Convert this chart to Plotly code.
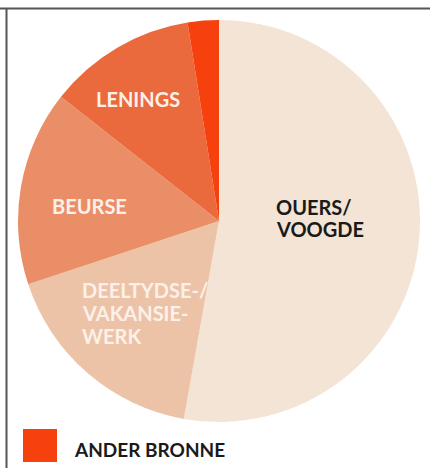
import plotly.graph_objects as go

# Data (share of student funding sources, clockwise from 12 o'clock)
categories = ["OUERS/VOOGDE", "DEELTYDSE-/VAKANSIEWERK", "BEURSE", "LENINGS", "ANDER BRONNE"]
values = [52.8, 17.1, 15.7, 11.9, 2.5]
colors = ["#F4E4D6", "#EDC3A7", "#EA8E67", "#EA6A3D", "#F6400E"]

# Label lines for slices
label_lines = {
    "OUERS/VOOGDE": ["OUERS/", "VOOGDE"],
    "DEELTYDSE-/VAKANSIEWERK": ["DEELTYDSE-/", "VAKANSIE-", "WERK"],
    "BEURSE": ["BEURSE"],
    "LENINGS": ["LENINGS"],
}
legend_label = "ANDER BRONNE"

W, H = 430, 468
cx, cy, r = 219, 221, 201

def px(x):
    return x / W

def py(y):
    return 1 - y / H

fig = go.Figure(go.Pie(
    labels=categories,
    values=values,
    sort=False,
    direction="clockwise",
    rotation=0,
    marker=dict(colors=colors, line=dict(width=0)),
    textinfo="none",
    hoverinfo="label+percent",
    showlegend=False,
    domain=dict(x=[px(cx - r), px(cx + r)], y=[py(cy + r), py(cy - r)]),
))

font_family = "Lato, 'Open Sans', sans-serif"
annotations = []

def add_lines(lines, x, ys, color, anchor="left"):
    for line, y in zip(lines, ys):
        annotations.append(dict(
            text="<b>%s</b>" % line, x=px(x), y=py(y), xref="paper", yref="paper",
            xanchor=anchor, yanchor="middle", showarrow=False,
            height=18, valign="middle", borderpad=0,
            font=dict(family=font_family, size=20, color=color),
        ))

add_lines(label_lines["OUERS/VOOGDE"], 275, [206.5, 228.5], "#1a1a1a")
add_lines(label_lines["DEELTYDSE-/VAKANSIEWERK"], 81, [290, 313, 336], "#FBF1EA")
add_lines(label_lines["BEURSE"], 89, [205.5], "#FBF1EA", anchor="center")
add_lines(label_lines["LENINGS"], 137.5, [99], "#FBF1EA", anchor="center")

# Legend entry for the small slice
annotations.append(dict(
    text="<b>%s</b>" % legend_label, x=px(72), y=py(449.5), xref="paper", yref="paper",
    xanchor="left", yanchor="middle", showarrow=False,
    font=dict(family=font_family, size=19, color="#1a1a1a"),
))

shapes = [
    # legend swatch
    dict(type="rect", xref="paper", yref="paper", x0=px(23), x1=px(57), y0=py(462), y1=py(429),
         fillcolor=colors[-1], line=dict(width=0)),
    # frame lines
    dict(type="line", xref="paper", yref="paper", x0=0, x1=1, y0=py(8.5), y1=py(8.5),
         line=dict(color="#555555", width=2)),
    dict(type="line", xref="paper", yref="paper", x0=px(6.5), x1=px(6.5), y0=py(8), y1=0,
         line=dict(color="#555555", width=2)),
]

fig.update_layout(
    width=W, height=H,
    margin=dict(l=0, r=0, t=0, b=0),
    paper_bgcolor="white",
    plot_bgcolor="white",
    annotations=annotations,
    shapes=shapes,
)

fig.write_html("out.html")
